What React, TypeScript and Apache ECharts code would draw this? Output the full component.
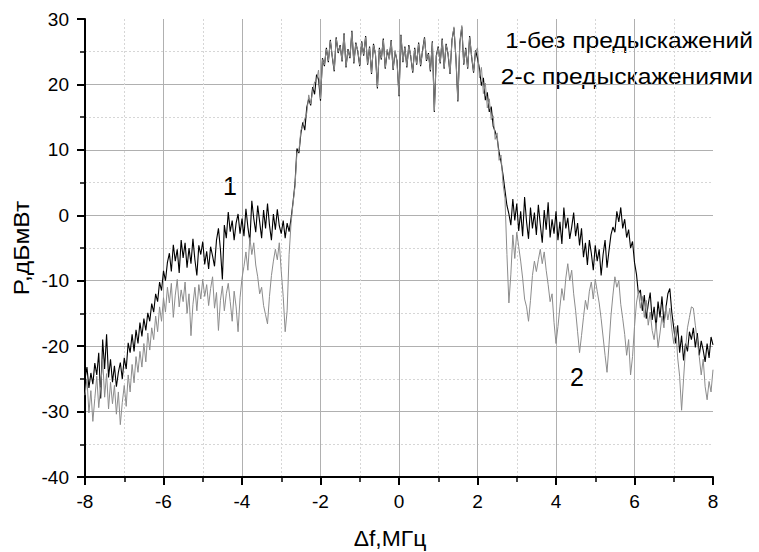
import React, { useEffect, useRef } from "react";
import * as echarts from "echarts";

// Frequency grid: -8 … 8 MHz, sampled every 0.05 MHz (321 samples)
const FREQ_START = -8;
const FREQ_STEP = 0.05;

// Curve 1 – без предыскажений (black), dBm, one row = 0.5 MHz
const powerNoPredist: number[] = [
  -25.0, -23.2, -26.4, -24.1, -25.8, -22.6, -24.4, -21.0, -28.0, -19.0,
  -23.5, -18.2, -24.8, -22.0, -25.5, -23.0, -26.2, -24.0, -22.5, -25.0,
  -21.8, -23.5, -19.5, -21.0, -18.2, -20.8, -17.5, -19.6, -16.4, -18.5,
  -15.8, -17.6, -14.9, -16.2, -13.5, -14.8, -12.0, -13.2, -10.2, -11.5,
  -8.5, -10.0, -7.2, -5.8, -8.6, -4.5, -7.0, -5.2, -8.8, -3.8,
  -6.5, -4.2, -8.0, -5.0, -7.4, -3.6, -6.8, -9.2, -4.6, -6.0,
  -4.0, -7.5, -5.5, -8.2, -4.8, -6.2, -7.8, -3.8, -2.0, -5.2,
  -9.8, -1.5, -3.5, 0.5, -2.5, -0.8, -3.8, -1.2, 0.2, -2.8,
  -0.5, -3.2, 1.0, -1.8, -4.0, 2.2, -0.5, -2.6, 1.5, -1.0,
  -3.5, 0.8, -2.0, 1.8, -1.5, -3.8, 0.2, -2.2, 0.9, -1.6,
  -2.8, -0.8, -3.5, -1.2, -2.5, -0.5, 2.0, 4.8, 10.2, 9.5,
  12.5, 14.2, 13.0, 16.5, 17.8, 16.8, 19.6, 18.5, 21.5, 20.8,
  17.5, 24.0, 22.8, 25.6, 23.4, 26.8, 24.2, 22.0, 27.2, 24.8,
  26.0, 23.5, 27.8, 22.6, 25.4, 24.0, 28.2, 23.2, 26.4, 25.0,
  22.8, 26.6, 24.4, 27.4, 23.0, 25.8, 21.6, 26.2, 24.6, 19.4,
  25.6, 23.8, 27.0, 22.4, 25.2, 24.0, 26.8, 22.2, 25.0, 23.6,
  18.2, 27.6, 23.4, 25.8, 22.6, 26.0, 24.2, 21.8, 25.6, 23.0,
  26.4, 22.8, 25.2, 27.2, 23.6, 24.8, 22.0, 26.6, 15.8, 24.4,
  25.8, 23.2, 27.0, 22.4, 26.2, 24.6, 21.6, 26.8, 28.6, 24.0,
  17.4, 26.4, 28.8, 23.0, 25.6, 22.4, 27.4, 24.2, 21.8, 25.2,
  24.0, 22.4, 19.8, 21.0, 17.6, 18.8, 15.8, 16.6, 13.6, 12.8,
  11.8, 9.6, 8.2, 6.2, 3.8, 1.5, 0.2, -1.5, 2.5, -0.8,
  1.8, -2.4, 0.6, -3.2, 2.8, -1.0, -3.6, 1.2, -2.0, 0.4,
  -3.0, 1.6, -1.4, -4.2, 0.8, -2.2, 2.0, -3.4, -0.6, -2.8,
  0.6, -3.8, -1.0, -4.4, 1.2, -2.0, -0.4, -3.6, -1.8, 0.4,
  -3.2, -1.2, -4.6, -2.0, -6.4, -4.2, -7.6, -3.8, -5.8, -8.4,
  -4.6, -7.0, -5.2, -9.2, -6.0, -3.8, -8.0, -5.4, -3.0, -1.8,
  -2.6, 0.6, -1.0, 1.2, -2.0, -0.6, -3.4, -2.2, -5.0, -4.0,
  -7.2, -9.0, -12.0, -11.4, -14.6, -12.2, -15.8, -13.6, -11.8, -16.0,
  -14.0, -17.2, -13.2, -15.6, -12.4, -16.4, -14.2, -12.0, -11.2, -14.8,
  -17.2, -19.6, -16.8, -21.0, -18.4, -22.2, -19.6, -20.8, -17.8, -19.0,
  -17.2, -20.2, -18.0, -21.4, -19.2, -20.6, -22.4, -19.6, -21.8, -18.6,
  -19.8,
];

// Curve 2 – с предыскажениями (grey), dBm
const powerPredist: number[] = [
  -27.5, -25.0, -30.2, -26.8, -31.5, -28.0, -24.6, -29.4, -26.2, -22.0,
  -27.8, -24.2, -29.6, -25.5, -28.8, -26.0, -30.4, -27.0, -32.0, -28.6,
  -26.0, -29.2, -24.4, -27.0, -22.8, -25.6, -21.6, -24.0, -20.8, -23.2,
  -19.6, -22.4, -18.0, -20.6, -17.2, -19.0, -15.4, -17.8, -14.0, -16.2,
  -12.6, -14.8, -11.0, -13.4, -10.4, -15.6, -12.2, -9.8, -14.0, -11.4,
  -13.2, -10.2, -15.0, -12.0, -18.4, -13.6, -11.0, -14.6, -10.6, -12.8,
  -9.8, -12.4, -10.6, -13.8, -11.2, -9.4, -14.2, -11.8, -17.6, -13.0,
  -10.8, -14.6, -12.0, -10.4, -13.2, -16.2, -11.6, -14.0, -17.8, -12.6,
  -9.6, -7.8, -5.6, -8.4, -3.4, -6.0, -4.2, -7.6, -9.4, -12.0,
  -11.0, -13.8, -15.2, -16.6, -12.4, -9.2, -7.0, -5.2, -6.8, -4.2,
  -8.6, -12.4, -17.8, -14.6, -6.0, -1.2, 1.8, 4.4, 9.6, 9.8,
  13.0, 13.6, 14.8, 15.6, 18.4, 17.0, 19.0, 20.4, 20.6, 22.2,
  17.8, 23.8, 23.0, 25.4, 23.6, 26.6, 24.4, 22.2, 27.0, 25.0,
  25.8, 23.7, 27.6, 22.8, 25.2, 24.2, 28.0, 23.4, 26.2, 25.2,
  23.0, 26.4, 24.6, 27.2, 23.2, 25.6, 21.8, 26.0, 24.8, 19.6,
  25.4, 24.0, 26.8, 22.6, 25.4, 23.8, 26.6, 22.4, 25.2, 23.4,
  18.4, 27.4, 23.6, 25.6, 22.8, 25.8, 24.4, 22.0, 25.4, 23.2,
  26.2, 23.0, 25.0, 27.0, 23.8, 24.6, 22.2, 26.4, 16.0, 24.2,
  25.6, 23.4, 26.8, 22.6, 26.0, 24.8, 21.8, 26.6, 28.8, 24.2,
  17.6, 26.2, 29.0, 23.2, 25.4, 22.6, 27.2, 24.4, 22.0, 25.0,
  25.6, 21.0, 22.6, 18.6, 20.2, 16.4, 17.8, 14.6, 15.2, 11.6,
  12.6, 8.4, 9.2, 4.8, 2.6, -6.0, -13.4, -9.0, -3.0, -6.6,
  -2.6, -4.8, -7.0, -9.6, -12.8, -14.0, -16.2, -13.0, -9.2, -7.0,
  -8.6, -6.8, -5.2, -7.4, -5.6, -8.4, -10.6, -13.2, -12.0, -16.4,
  -19.6, -17.0, -14.0, -11.2, -13.0, -9.6, -7.4, -10.0, -8.4, -12.0,
  -14.6, -17.8, -21.0, -18.4, -15.6, -13.0, -14.4, -11.6, -10.2, -12.8,
  -9.8, -11.6, -13.4, -15.8, -18.6, -21.4, -24.0, -19.8, -15.4, -12.2,
  -9.4, -11.0, -10.0, -13.6, -15.8, -18.2, -21.4, -19.0, -24.4, -21.6,
  -17.0, -13.4, -11.6, -14.2, -12.4, -15.6, -13.0, -16.8, -14.8, -17.6,
  -19.0, -16.4, -20.2, -18.0, -15.4, -17.2, -13.8, -16.0, -14.2, -17.4,
  -19.6, -17.0, -21.8, -24.6, -29.8, -25.0, -20.4, -17.2, -15.6, -14.0,
  -14.2, -16.8, -19.2, -21.6, -24.4, -22.0, -26.2, -28.2, -25.4, -27.0,
  -23.6,
];

const legendLines = ["1-без предыскажений", "2-с предыскажениями"];
const curveLabels = ["1", "2"];
const xAxisName = "\u0394f,МГц";
const yAxisName = "P,дБмВт";

const FONT = "'Liberation Sans', Arial, sans-serif";

function toPairs(values: number[]): [number, number][] {
  return values.map((v, i) => [
    Math.round((FREQ_START + i * FREQ_STEP) * 100) / 100,
    v,
  ]);
}

function label(text: string, x: number, y: number, size: number, align: string, extra: any = {}) {
  return {
    type: "text",
    x,
    y,
    ...extra,
    style: {
      text,
      fill: "#000",
      fontSize: size,
      fontFamily: FONT,
      textAlign: align,
      textVerticalAlign: "middle",
      align,
      verticalAlign: "middle",
    },
  };
}

export default function App() {
  const ref = useRef<HTMLDivElement>(null);

  useEffect(() => {
    if (!ref.current) return;
    const chart = echarts.init(ref.current, undefined, { renderer: "svg" });
    const axisCommon = {
      axisLine: { show: true, onZero: false, lineStyle: { color: "#000", width: 2 } },
      axisTick: { show: true, inside: false, length: 8, lineStyle: { color: "#000", width: 2 } },
      minorTick: { show: true, splitNumber: 2, length: 5, lineStyle: { color: "#000", width: 1.5 } },
      splitLine: {
        show: true,
        showMaxLine: false,
        lineStyle: { color: "#b0b0b0", width: 1, type: "solid" },
      },
      minorSplitLine: {
        show: true,
        lineStyle: { color: "#d6d6d6", width: 1, type: [2, 2] },
      },
      axisLabel: { color: "#000", fontSize: 19, fontFamily: FONT },
    };
    chart.setOption({
      animation: false,
      backgroundColor: "#fff",
      grid: { left: 85, top: 19, right: 46, bottom: 75, containLabel: false },
      xAxis: {
        type: "value",
        min: -8,
        max: 8,
        interval: 2,
        ...axisCommon,
        axisLabel: { ...axisCommon.axisLabel, margin: 15 },
      },
      yAxis: {
        type: "value",
        min: -40,
        max: 30,
        interval: 10,
        ...axisCommon,
        axisLabel: { ...axisCommon.axisLabel, margin: 16 },
      },
      series: [
        {
          name: legendLines[0],
          type: "line",
          data: toPairs(powerNoPredist),
          showSymbol: false,
          symbol: "none",
          lineStyle: { color: "#000000", width: 1.1 },
          itemStyle: { color: "#000000" },
          z: 2,
        },
        {
          name: legendLines[1],
          type: "line",
          data: toPairs(powerPredist),
          showSymbol: false,
          symbol: "none",
          lineStyle: { color: "#8c8c8c", width: 1 },
          itemStyle: { color: "#8c8c8c" },
          z: 3,
        },
      ],
      graphic: [
        label(legendLines[0], 753, 40, 22, "right", { scaleX: 1.12 }),
        label(legendLines[1], 753, 76, 22, "right", { scaleX: 1.12 }),
        label(curveLabels[0], 230, 186, 25, "center"),
        label(curveLabels[1], 577, 377, 25, "center"),
        label(xAxisName, 390, 539, 22, "center", { scaleX: 1.04 }),
        label(yAxisName, 21, 248, 22, "center", { rotation: Math.PI / 2, scaleX: 1.12 }),
      ],
    });
    return () => chart.dispose();
  }, []);

  return <div ref={ref} style={{ width: 759, height: 552, position: "fixed", left: 0, top: 0 }} />;
}
